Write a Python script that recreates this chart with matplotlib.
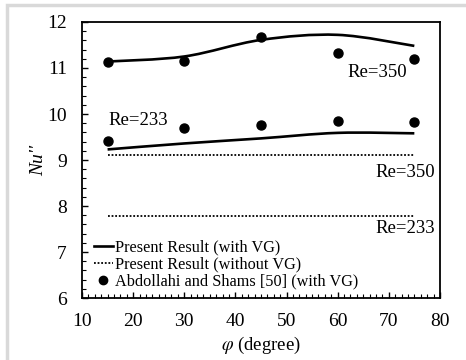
import numpy as np
import matplotlib.pyplot as plt
from matplotlib.path import Path
from matplotlib.patches import PathPatch, Rectangle
from matplotlib.lines import Line2D
from matplotlib.ticker import AutoMinorLocator

plt.rcParams['font.family'] = ['Liberation Serif', 'DejaVu Serif']
plt.rcParams['mathtext.fontset'] = 'stix'

# angle of the vortex generator (degree)
phi = [15, 30, 45, 60, 75]

# present result with VG
nu_vg_350 = [11.14, 11.25, 11.61, 11.72, 11.48]
nu_vg_233 = [9.23, 9.36, 9.47, 9.59, 9.58]

# present result without VG (constant)
nu_novg_350 = 9.11
nu_novg_233 = 7.79

# Abdollahi and Shams [50] (with VG)
nu_ref_350 = [11.12, 11.16, 11.67, 11.32, 11.20]
nu_ref_233 = [9.42, 9.69, 9.76, 9.85, 9.83]


def smooth_path(x, y):
    # excel-like smoothed line: cubic bezier segments through the points
    pts = np.column_stack([x, y]).astype(float)
    n = len(pts)
    verts = [pts[0]]
    codes = [Path.MOVETO]
    for i in range(n - 1):
        p0 = pts[i - 1] if i > 0 else pts[i]
        p1 = pts[i]
        p2 = pts[i + 1]
        p3 = pts[i + 2] if i + 2 < n else pts[i + 1]
        c1 = p1 + (p2 - p0) / 6.0
        c2 = p2 - (p3 - p1) / 6.0
        verts += [c1, c2, p2]
        codes += [Path.CURVE4] * 3
    return Path(verts, codes)


fig = plt.figure(figsize=(4.66, 3.6), dpi=100)
ax = fig.add_axes([0.176, 0.172, 0.768, 0.767])

# light frame round the chart area
fig.patches.append(Rectangle((7 / 466, -0.1), 1.2, (355 / 360) + 0.1,
                             transform=fig.transFigure, fill=False,
                             edgecolor='#d9d9d9', linewidth=2.5))

for yy in [nu_vg_350, nu_vg_233]:
    ax.add_patch(PathPatch(smooth_path(phi, yy), fill=False,
                           edgecolor='black', linewidth=1.9))

ax.plot([phi[0], phi[-1]], [nu_novg_350, nu_novg_350], color='black',
        linestyle=(0, (1, 1)), linewidth=1.3)
ax.plot([phi[0], phi[-1]], [nu_novg_233, nu_novg_233], color='black',
        linestyle=(0, (1, 1)), linewidth=1.3)

ax.plot(phi, nu_ref_350, 'o', color='black', markersize=6.5)
ax.plot(phi, nu_ref_233, 'o', color='black', markersize=6.5)

ax.text(62, 10.91, 'Re=350', fontsize=13.5, va='center')
ax.text(15.1, 9.86, 'Re=233', fontsize=13.5, va='center')
ax.text(67.3, 8.72, 'Re=350', fontsize=13.5, va='center')
ax.text(67.3, 7.52, 'Re=233', fontsize=13.5, va='center')

ax.set_xlim(10, 80)
ax.set_ylim(6, 12)
ax.set_xticks(range(10, 81, 10))
ax.set_yticks(range(6, 13))
ax.xaxis.set_minor_locator(AutoMinorLocator(8))
ax.yaxis.set_minor_locator(AutoMinorLocator(5))
ax.tick_params(which='both', direction='in', top=False, right=False,
               labelsize=14)
ax.tick_params(which='major', length=4, width=1, pad=11)
ax.tick_params(which='minor', length=3, width=0.8)
for s in ax.spines.values():
    s.set_linewidth(1.3)

ax.set_xlabel(r'$\varphi$ (degree)', fontsize=13.5, labelpad=3)
ax.set_ylabel("Nu''", fontsize=14, style='italic', labelpad=0)

handles = [
    Line2D([], [], color='black', linewidth=1.9),
    Line2D([], [], color='black', linestyle=(0, (1, 1)), linewidth=1.3),
    Line2D([], [], color='black', marker='o', linestyle='none', markersize=6),
]
labels = ['Present Result (with VG)', 'Present Result (without VG)',
          'Abdollahi and Shams [50] (with VG)']
ax.legend(handles, labels, loc='lower left', frameon=False, fontsize=11.7,
          handlelength=1.2, handletextpad=0.1, labelspacing=0.05,
          borderaxespad=0.0, bbox_to_anchor=(0.014, 0.008))

fig.savefig('out.png', dpi=100)
